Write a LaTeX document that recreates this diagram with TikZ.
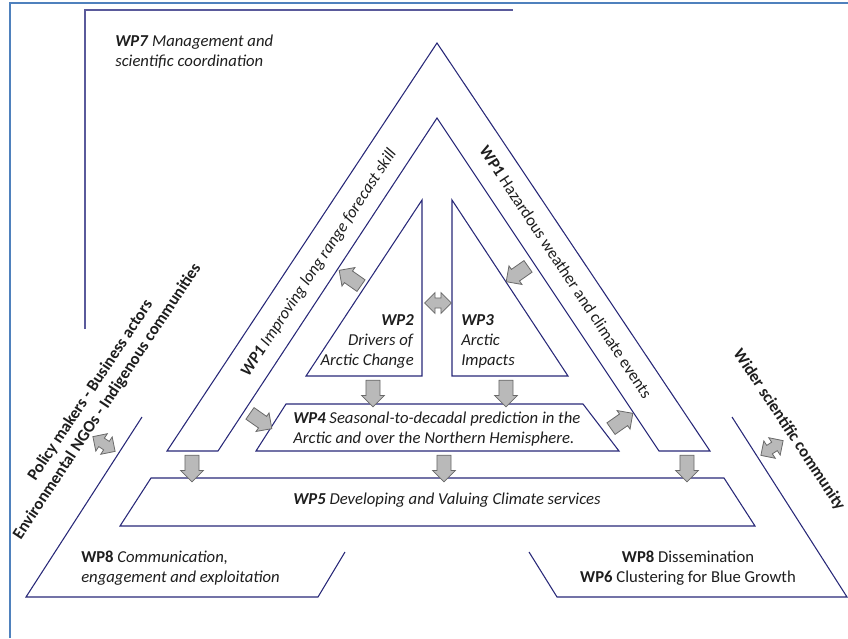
\documentclass[tikz,border=0pt]{standalone}
\usepackage{fontspec}
\setmainfont{Carlito}
\usetikzlibrary{shapes.arrows}

\definecolor{wpblue}{RGB}{40,40,120}
\definecolor{boxline}{RGB}{90,90,155}
\definecolor{frameblue}{RGB}{79,129,189}
\definecolor{arrowfill}{RGB}{185,185,185}
\definecolor{arrowedge}{RGB}{105,105,105}
\definecolor{textcol}{RGB}{30,30,30}

\begin{document}
\begin{tikzpicture}[
    x=0.75pt, y=-0.75pt,
    wpshape/.style={draw=wpblue, line width=0.8pt},
    wptext/.style={font=\fontsize{12.5pt}{15pt}\selectfont, text=textcol, inner sep=0pt},
    boldtext/.style={wptext, font=\fontsize{12.5pt}{15pt}\selectfont\bfseries},
    flow/.style={single arrow, draw=arrowedge, fill=arrowfill, line width=0.6pt, minimum height=20pt, inner xsep=0pt, inner ysep=5pt, single arrow head extend=3.2pt},
    exchange/.style={double arrow, draw=arrowedge, fill=arrowfill, line width=0.6pt, minimum height=20pt, inner xsep=0pt, inner ysep=3.5pt, double arrow head extend=4pt}
]
\useasboundingbox (0,0) rectangle (848,638);

% Frame
\draw[frameblue, line width=1.1pt] (10,638) -- (10,3) -- (848,3);

% WP7 box
\draw[boxline, line width=1pt] (85,329) -- (85,10) -- (513,10);
\node[wptext, anchor=west, align=left] (wp7) at (115,52) {\textbf{\textit{WP7}} \textit{Management and}\\\textit{scientific coordination}};

% WP1 band
\draw[wpshape] (167,451) -- (437,43) -- (710,451) -- (659,451) -- (437,118) -- (218,451) -- cycle;
\node[wptext, rotate=56.5] (wp1l) at (319,263) {\textbf{\textit{WP1}} \textit{Improving long range forecast skill}};
\node[wptext, rotate=-56.5] (wp1r) at (566,272) {\textbf{WP1} Hazardous weather and climate events};

% WP2 and WP3
\draw[wpshape] (422,200) -- (422,376) -- (306,376) -- cycle;
\draw[wpshape] (452,200) -- (568,376) -- (452,376) -- cycle;
\node[wptext, anchor=east, align=right] (wp2) at (414,341) {\textbf{\textit{WP2}}\\\textit{Drivers of}\\\textit{Arctic Change}};
\node[wptext, anchor=west, align=left] (wp3) at (461,341) {\textbf{\textit{WP3}}\\\textit{Arctic}\\\textit{Impacts}};

% WP4
\draw[wpshape] (286,404) -- (583,404) -- (619,451) -- (256,451) -- cycle;
\node[wptext, anchor=west, align=left] (wp4) at (293,429) {\textbf{\textit{WP4}} \textit{Seasonal-to-decadal prediction in the}\\\textit{Arctic and over the Northern Hemisphere.}};

% WP5
\draw[wpshape] (151,478) -- (724,478) -- (755,526) -- (120,526) -- cycle;
\node[wptext] (wp5) at (447,500) {\textbf{\textit{WP5}} \textit{Developing and Valuing Climate services}};

% WP8 left and right
\draw[wpshape] (142,417) -- (26,597) -- (318,597) -- (345,552);
\draw[wpshape] (732,417) -- (847,597) -- (557,597) -- (529,552);
\node[wptext, anchor=west, align=left] (wp8l) at (81,568) {\textbf{WP8} \textit{Communication,}\\\textit{engagement and exploitation}};
\node[wptext, align=center] (wp8r) at (688,568) {\textbf{WP8} Dissemination\\\textbf{WP6} Clustering for Blue Growth};

% Stakeholders
\node[boldtext, rotate=56.5, align=center] (policy) at (99,396) {Policy makers - Business actors\\Environmental NGOs - Indigenous communities};
\node[boldtext, rotate=-56.5] (wider) at (789,430) {Wider scientific community};

% Arrows between work packages
\node[flow, rotate=-90] (a24) at (373,390) {};
\node[flow, rotate=-90] (a34) at (506,390) {};
\node[flow, rotate=-90] (a15) at (192,465) {};
\node[flow, rotate=-90] (a45) at (444,465) {};
\node[flow, rotate=-90] (b15) at (687,465) {};
\node[flow, rotate=-35] (a14) at (258,419) {};
\node[flow, rotate=35] (a41) at (619,423) {};
\node[flow, rotate=145] (a21) at (353,280) {};
\node[flow, rotate=-145] (a13) at (520,272) {};

% Exchange arrows
\node[exchange] (d23) at (438,303) {};
\node[exchange, rotate=-33.5] (dpol) at (104,444) {};
\node[exchange, rotate=33.5] (dwid) at (772,448) {};

\end{tikzpicture}
\end{document}
